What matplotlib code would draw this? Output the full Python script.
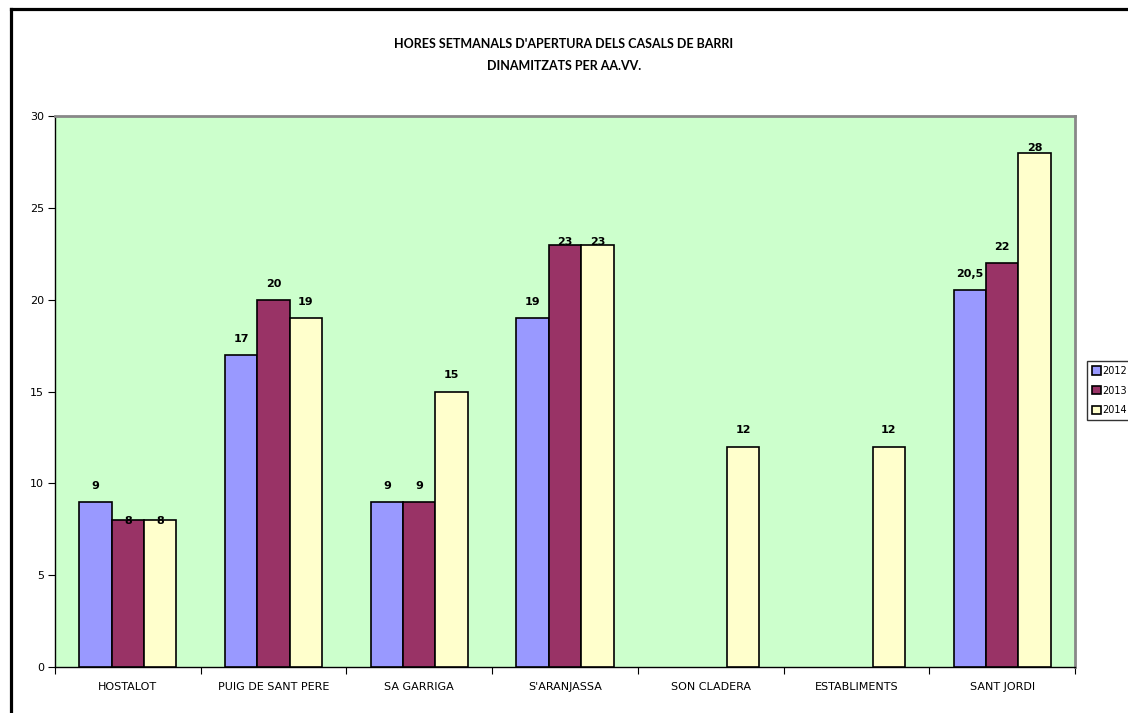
import numpy as np
import matplotlib
matplotlib.use('Agg')
import matplotlib.pyplot as plt
import matplotlib.lines as mlines

categories = ['HOSTALOT', 'PUIG DE SANT PERE', 'SA GARRIGA', "S'ARANJASSA",
              'SON CLADERA', 'ESTABLIMENTS', 'SANT JORDI']
years = ['2012', '2013', '2014']
v2012 = [9, 17, 9, 19, np.nan, np.nan, 20.5]
v2013 = [8, 20, 9, 23, np.nan, np.nan, 22]
v2014 = [8, 19, 15, 23, 12, 12, 28]
# label offsets (points above bar top) as Excel placed them
off2012 = [8, 8, 8, 8, 8, 8, 8]
off2013 = [-4, 8, 8, -2, 8, 8, 8]
off2014 = [-4, 8, 8, -2, 8, 8, 0]
colors = ['#9999FF', '#993366', '#FFFFCC']

fig = plt.figure(figsize=(11.28, 7.13), dpi=100)
ax = fig.add_axes([55/1128, 46/713, 1020/1128, 551/713])
ax.set_facecolor('#CCFFCC')

x = np.arange(len(categories))
w = 0.222
series = [v2012, v2013, v2014]
offs = [off2012, off2013, off2014]
for i, (vals, col, yr) in enumerate(zip(series, colors, years)):
    pos = x + (i - 1) * w
    ax.bar(pos, vals, w, color=col, edgecolor='black', linewidth=1.2, label=yr, zorder=3)
    for p, v, o in zip(pos, vals, offs[i]):
        if np.isnan(v):
            continue
        lab = ('%g' % v).replace('.', ',')
        ax.annotate(lab, (p, v), xytext=(0, o), textcoords='offset points',
                    ha='center', va='bottom', fontsize=8, fontweight='bold', zorder=4)

ax.set_xlim(-0.5, len(categories) - 0.5)
ax.set_ylim(0, 30)
ax.set_yticks(range(0, 31, 5))
ax.set_xticks(x)
ax.set_xticklabels(categories, fontsize=8)
ax.set_xticks(np.arange(-0.5, len(categories)), minor=True)
ax.tick_params(axis='x', which='major', length=0, pad=11)
ax.tick_params(axis='x', which='minor', length=5, width=0.8, direction='out')
ax.tick_params(axis='y', labelsize=8, length=5, width=0.8, direction='out', pad=3)

for s in ['top', 'right']:
    ax.spines[s].set_color('#888888')
    ax.spines[s].set_linewidth(2)
for s in ['left', 'bottom']:
    ax.spines[s].set_color('black')
    ax.spines[s].set_linewidth(1)

fig.text(0.5, 1 - 44/713, "HORES SETMANALS D'APERTURA DELS CASALS DE BARRI",
         ha='center', va='center', fontsize=9, fontweight='bold', family='Lato')
fig.text(0.5, 1 - 66/713, 'DINAMITZATS PER AA.VV.',
         ha='center', va='center', fontsize=9, fontweight='bold', family='Lato')

leg = ax.legend(loc='upper left', bbox_to_anchor=(1087/1128, 1 - 361/713),
                bbox_transform=fig.transFigure, fontsize=7, frameon=True,
                fancybox=False, handlelength=0.9, handleheight=0.9,
                handletextpad=0.2, borderpad=0.5, labelspacing=1.0,
                borderaxespad=0)
leg.get_frame().set_edgecolor('black')
leg.get_frame().set_linewidth(1)

# outer chart border (only left and top visible)
fig.add_artist(mlines.Line2D([10.5/1128, 10.5/1128], [0, 1 - 8.5/713],
                             transform=fig.transFigure, color='black', linewidth=2.3))
fig.add_artist(mlines.Line2D([10.5/1128, 1], [1 - 8.5/713, 1 - 8.5/713],
                             transform=fig.transFigure, color='black', linewidth=2.3))

fig.savefig('out.png', dpi=100)
